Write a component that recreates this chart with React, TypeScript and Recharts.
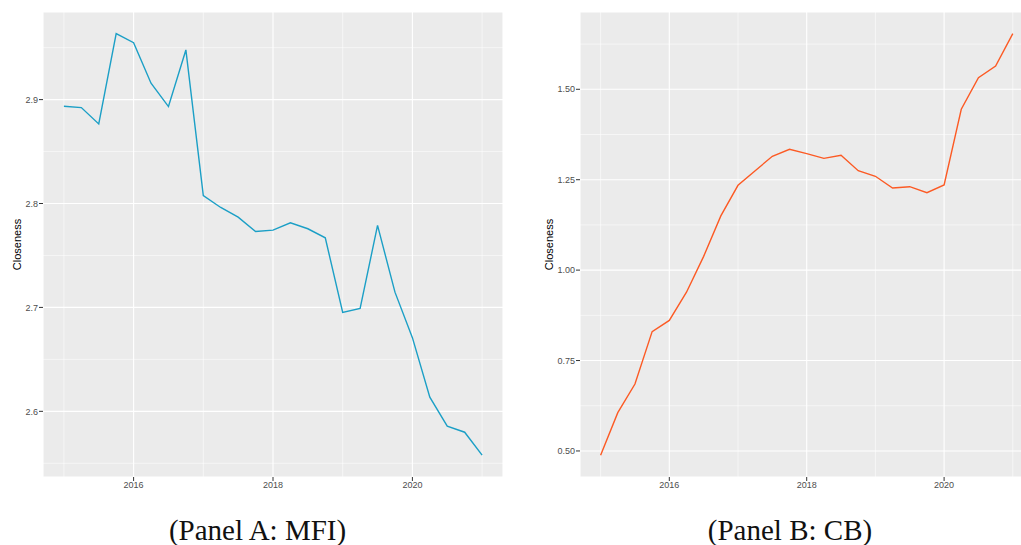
import { CartesianGrid, Line, LineChart, ReferenceLine, XAxis, YAxis } from 'recharts'

const quarters = [
  2015, 2015.25, 2015.5, 2015.75, 2016, 2016.25, 2016.5, 2016.75, 2017, 2017.25, 2017.5, 2017.75, 2018,
  2018.25, 2018.5, 2018.75, 2019, 2019.25, 2019.5, 2019.75, 2020, 2020.25, 2020.5, 2020.75, 2021,
]

const mfiCloseness = [
  2.8936, 2.8923, 2.8766, 2.9635, 2.9548, 2.9158, 2.8933, 2.9478, 2.8077, 2.7962, 2.7869, 2.7731, 2.7744,
  2.7814, 2.7757, 2.767, 2.6952, 2.699, 2.7789, 2.7147, 2.6709, 2.6136, 2.5857, 2.5799, 2.5578,
]

const cbCloseness = [
  0.488, 0.606, 0.685, 0.83, 0.861, 0.939, 1.038, 1.15, 1.2345, 1.275, 1.3147, 1.334, 1.322, 1.309, 1.3175,
  1.275, 1.2595, 1.2271, 1.2307, 1.2141, 1.2354, 1.4447, 1.532, 1.5644, 1.6537,
]

const yearTicks = [2016, 2018, 2020]
const yearMinor = [2015, 2017, 2019, 2021]
const mfiTicks = [2.6, 2.7, 2.8, 2.9]
const mfiMinor = [2.55, 2.65, 2.75, 2.85, 2.95]
const cbTicks = [0.5, 0.75, 1.0, 1.25, 1.5]
const cbMinor = [0.625, 0.875, 1.125, 1.375, 1.625]

const mfiData = quarters.map((q, i) => ({ q, v: mfiCloseness[i] }))
const cbData = quarters.map((q, i) => ({ q, v: cbCloseness[i] }))

const tickStyle = { fontSize: 9, fill: '#4d4d4d', fontFamily: 'Liberation Sans, Arial, sans-serif' }

function Panel({
  data,
  color,
  yDomain,
  yTicks,
  yMinor,
  fmt,
  width,
  yAxisWidth,
  labelOffset,
  right,
}: {
  data: { q: number; v: number }[]
  color: string
  yDomain: [number, number]
  yTicks: number[]
  yMinor: number[]
  fmt: (v: number) => string
  width: number
  yAxisWidth: number
  labelOffset: number
  right: number
}) {
  return (
    <LineChart width={width} height={500} data={data} margin={{ top: 12, right, left: 0, bottom: 3 }}>
      <CartesianGrid fill="#ebebeb" stroke="#ffffff" strokeWidth={1.1} />
      {yearMinor.map((x) => (
        <ReferenceLine key={'vx' + x} x={x} stroke="#ffffff" strokeWidth={0.55} />
      ))}
      {yMinor.map((y) => (
        <ReferenceLine key={'hy' + y} y={y} stroke="#ffffff" strokeWidth={0.55} />
      ))}
      <XAxis
        dataKey="q"
        type="number"
        domain={[2014.7, 2021.3]}
        ticks={yearTicks}
        allowDataOverflow
        axisLine={false}
        tickSize={4}
        tickMargin={1}
        tickLine={{ stroke: '#333333' }}
        tick={tickStyle}
        height={20}
      />
      <YAxis
        type="number"
        domain={yDomain}
        ticks={yTicks}
        allowDataOverflow
        axisLine={false}
        tickSize={4}
        tickMargin={1}
        tickLine={{ stroke: '#333333' }}
        tick={tickStyle}
        tickFormatter={fmt}
        width={yAxisWidth}
        label={{
          value: 'Closeness',
          angle: -90,
          position: 'insideLeft',
          offset: labelOffset,
          style: { textAnchor: 'middle', fontSize: 11, fill: '#000000', fontFamily: 'Liberation Sans, Arial, sans-serif' },
        }}
      />
      <Line type="linear" dataKey="v" stroke={color} strokeWidth={1.4} dot={false} isAnimationActive={false} />
    </LineChart>
  )
}

const captionStyle = {
  position: 'absolute' as const,
  top: 516,
  fontFamily: 'Liberation Serif, serif',
  fontSize: 29,
  lineHeight: '29px',
  textAlign: 'center' as const,
  color: '#111111',
  width: 400,
}

export default function App() {
  return (
    <div style={{ position: 'absolute', left: 0, top: 0, width: 1021, height: 545, overflow: 'hidden', background: '#ffffff' }}>
      <div style={{ position: 'absolute', left: 0, top: 0 }}>
        <Panel
          data={mfiData}
          color="#1b9fc6"
          yDomain={[2.5368, 2.9843]}
          yTicks={mfiTicks}
          yMinor={mfiMinor}
          fmt={(v) => v.toFixed(1)}
          width={515}
          yAxisWidth={43}
          labelOffset={17}
          right={12}
        />
      </div>
      <div style={{ position: 'absolute', left: 530, top: 0 }}>
        <Panel
          data={cbData}
          color="#fc5a24"
          yDomain={[0.428, 1.7137]}
          yTicks={cbTicks}
          yMinor={cbMinor}
          fmt={(v) => v.toFixed(2)}
          width={520}
          yAxisWidth={50}
          labelOffset={19}
          right={16.6}
        />
      </div>
      <div style={{ ...captionStyle, left: 257.5 - 200 }}>(Panel A: MFI)</div>
      <div style={{ ...captionStyle, left: 790 - 200 }}>(Panel B: CB)</div>
    </div>
  )
}
